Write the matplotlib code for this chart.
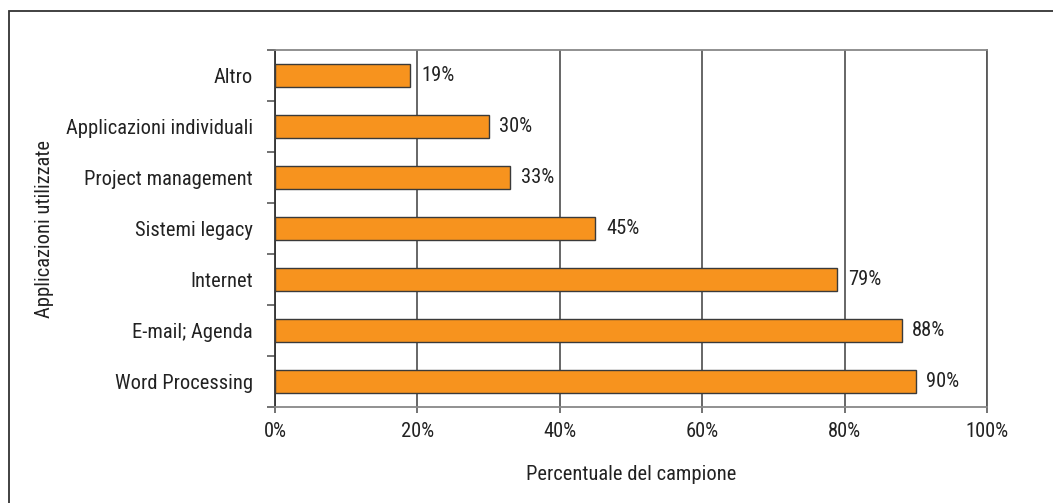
import numpy as np
import matplotlib.pyplot as plt
from matplotlib.patches import Rectangle
from matplotlib.ticker import FixedLocator, FuncFormatter

# dati (dall'alto verso il basso)
applicazioni = ["Altro", "Applicazioni individuali", "Project management",
                "Sistemi legacy", "Internet", "E-mail; Agenda", "Word Processing"]
percentuali = [19, 30, 33, 45, 79, 88, 90]
tick_x = [0, 20, 40, 60, 80, 100]

plt.rcParams['font.family'] = ['Roboto Condensed', 'DejaVu Sans']
plt.rcParams['font.size'] = 14.8

arancio = '#F7931E'
grigio = '#5a5a5a'
testo = '#222222'

fig = plt.figure(figsize=(10.53, 5.03), dpi=100)
ax = fig.add_axes([275 / 1053, 1 - 407 / 503, 712 / 1053, 357 / 503])

# cornice esterna (solo lato sinistro e superiore visibili)
fig.patches.append(Rectangle((9 / 1053, -0.1), 1.2, 1 - 11 / 503 + 0.1,
                             transform=fig.transFigure, fill=False,
                             edgecolor='#333333', linewidth=1.3))

pos = np.arange(len(applicazioni))
ax.barh(pos, percentuali, height=0.45, color=arancio, edgecolor='#3a3a3a',
        linewidth=1.0, zorder=3)
for p, v in zip(pos, percentuali):
    ax.text(v + 1.5, p, f"{v}%", va='center', ha='left', color=testo)

ax.set_xlim(0, 100)
ax.set_ylim(len(applicazioni) - 0.5, -0.5)

ax.set_xticks(tick_x)
ax.xaxis.set_major_formatter(FuncFormatter(lambda x, _: f"{x:.0f}%"))
ax.tick_params(axis='x', direction='out', length=4.5, width=1.2, color=grigio,
               pad=6, labelcolor=testo)

ax.set_yticks(pos)
ax.set_yticklabels(applicazioni, color=testo)
ax.tick_params(axis='y', which='major', length=0, pad=16)
ax.yaxis.set_minor_locator(FixedLocator(np.arange(-0.5, len(applicazioni), 1.0)))
ax.tick_params(axis='y', which='minor', direction='out', length=6, width=1.2,
               color=grigio)

ax.grid(axis='x', color=grigio, linewidth=1.3, zorder=1)
for s in ['top', 'bottom']:
    ax.spines[s].set_color('#888888')
    ax.spines[s].set_linewidth(1.3)
ax.spines['right'].set_color(grigio)
ax.spines['right'].set_linewidth(1.3)
ax.spines['left'].set_color('#333333')
ax.spines['left'].set_linewidth(1.3)

ax.set_xlabel("Percentuale del campione", color=testo)
ax.xaxis.set_label_coords(0.5, -(474 - 407) / 357)
ax.xaxis.label.set_va('center')
ax.set_ylabel("Applicazioni utilizzate", color=testo)
ax.yaxis.set_label_coords(-(275 - 45) / 712, 0.5)
ax.yaxis.label.set_va('center')

fig.savefig("out.png", dpi=100)
